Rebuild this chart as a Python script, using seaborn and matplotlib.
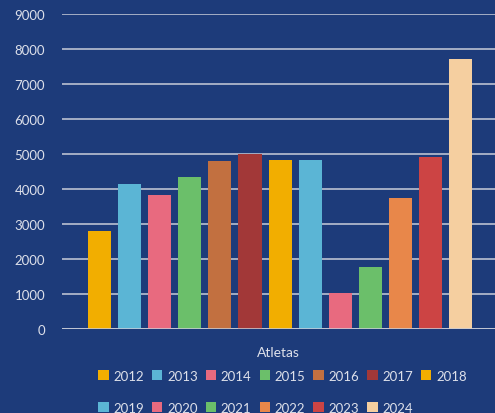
import matplotlib
matplotlib.use("Agg")
import matplotlib.pyplot as plt
from matplotlib.patches import Patch
import seaborn as sns
import pandas as pd

# Data
years = ["2012", "2013", "2014", "2015", "2016", "2017", "2018",
         "2019", "2020", "2021", "2022", "2023", "2024"]
atletas = [2820, 4160, 3850, 4370, 4800, 5000, 4850,
           4850, 1030, 1790, 3760, 4920, 7730]
colors = ["#F2AE00", "#5BB5D5", "#E86A7F", "#6BBF6A", "#C27040", "#A23838", "#F2AE00",
          "#5BB5D5", "#E86A7F", "#6BBF6A", "#E8874A", "#CC4444", "#F5CFA0"]

df = pd.DataFrame({"Ano": years, "Atletas": atletas})

bg = "#1d3b7a"
txt = "#dde0ea"
grid = "#c9cdd8"

sns.set_style("white")
plt.rcParams["font.family"] = ["Lato", "DejaVu Sans"]

fig = plt.figure(figsize=(4.95, 4.14), dpi=100, facecolor=bg)
ax = fig.add_axes([0.125, 0.2017, 0.875, 0.7609])
ax.set_facecolor(bg)

sns.barplot(data=df, x="Ano", y="Atletas", hue="Ano", palette=colors,
            saturation=1, width=0.77, dodge=False, linewidth=0,
            legend=False, ax=ax)

ax.set_ylim(0, 9000)
ax.set_xlim(-1.25, 13.14)
ax.set_yticks(range(0, 9001, 1000))
ax.set_axisbelow(True)
ax.yaxis.grid(True, color=grid, linewidth=1.1)
ax.tick_params(axis="y", length=0, pad=12, labelsize=9.5, labelcolor=txt)
ax.set_xticks([])
ax.set_ylabel("")
ax.set_xlabel("Atletas", color=txt, fontsize=10, labelpad=12)
for s in ax.spines.values():
    s.set_visible(False)
ax.axhline(0, color=grid, linewidth=1.1)

# Legend below, laid out row by row (7 + 6)
handles = [Patch(facecolor=c, edgecolor="none") for c in colors]
order = []
for k in range(7):
    order.append(k)
    if k + 7 < len(handles):
        order.append(k + 7)
leg = fig.legend([handles[i] for i in order], [years[i] for i in order],
                 ncol=7, loc="upper left", bbox_to_anchor=(0.198, 0.104),
                 frameon=False, fontsize=9.5, labelcolor=txt,
                 handlelength=0.8, handleheight=0.8, handletextpad=0.35,
                 columnspacing=0.6, labelspacing=1.5, borderpad=0,
                 borderaxespad=0)

fig.savefig("out.png", dpi=100, facecolor=bg)
